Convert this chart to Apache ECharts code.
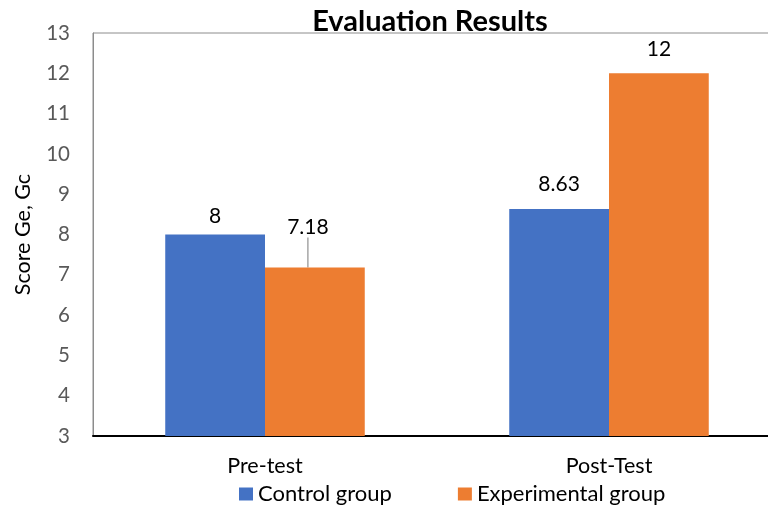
<!DOCTYPE html>
<html><head><meta charset="utf-8">
<script src="https://cdn.jsdelivr.net/npm/echarts@6/dist/echarts.min.js"></script>
<style>html,body{margin:0;padding:0;background:#fff}#c{width:768px;height:507px}</style>
</head><body><div id="c"></div>
<script>
const categories = ['Pre-test', 'Post-Test'];
const controlGroup = [8, 8.63];
const experimentalGroup = [7.18, 12];
const seriesNames = ['Control group', 'Experimental group'];
const yMin = 3, yMax = 13, yStep = 1;

const font = 'Lato, "Open Sans", sans-serif';
const chart = echarts.init(document.getElementById('c'));
chart.setOption({
  animation: false,
  title: {
    text: 'Evaluation Results', left: 425, top: 2, textAlign: 'center',
    textStyle: {fontFamily: font, fontSize: 29, fontWeight: 'bold', color: '#000'}
  },
  legend: {
    data: seriesNames, top: 478, left: 234, itemWidth: 14, itemHeight: 13, itemGap: 66,
    icon: 'rect', textStyle: {fontFamily: font, fontSize: 22, color: '#000'}
  },
  grid: {left: 93, width: 688, top: 33, bottom: 71, show: true, borderColor: '#8c8c8c', borderWidth: 1,
         containLabel: false, outerBoundsMode: 'none'},
  xAxis: {
    type: 'category', data: categories,
    axisLine: {lineStyle: {color: '#000', width: 2}}, axisTick: {show: false},
    axisLabel: {fontFamily: font, fontSize: 21.5, color: '#000', margin: 19}
  },
  yAxis: {
    type: 'value', min: yMin, max: yMax, interval: yStep,
    name: 'Score Ge, Gc', nameLocation: 'middle', nameGap: 59, nameRotate: 90,
    nameTextStyle: {fontFamily: font, fontSize: 21.5, color: '#000'},
    axisLine: {show: true, lineStyle: {color: '#8c8c8c'}}, axisTick: {show: false},
    splitLine: {show: false},
    axisLabel: {fontFamily: font, fontSize: 20.5, color: '#595959', margin: 23}
  },
  series: [
    {
      name: seriesNames[0], type: 'bar', data: controlGroup, barGap: '0%', barCategoryGap: '42%',
      itemStyle: {color: '#4472C4'},
      label: {show: true, position: 'top', distance: 8, fontFamily: font, fontSize: 21, color: '#000'},
      labelLayout: function (p) { return p.dataIndex === 1 ? {dy: -6} : {}; }
    },
    {
      name: seriesNames[1], type: 'bar',
      data: experimentalGroup.map((v, i) => i === 0 ? {value: v, labelLine: {show: true}} : v),
      itemStyle: {color: '#ED7D31'},
      label: {show: true, position: 'top', distance: 8, fontFamily: font, fontSize: 21, color: '#000'},
      labelLayout: function (p) { return p.dataIndex === 0 ? {dx: -7, dy: -22} : {dy: -6}; },
      labelLine: {show: false, lineStyle: {color: '#a6a6a6', width: 1.5}}
    }
  ]
});
</script></body></html>
